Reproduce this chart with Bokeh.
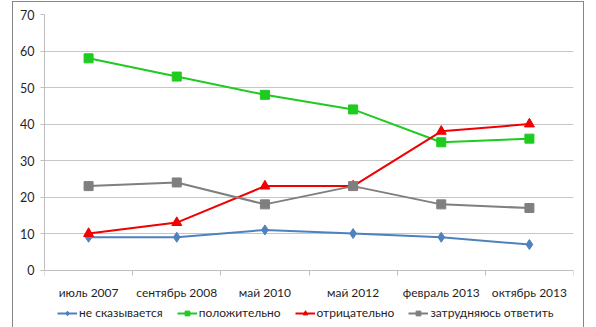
from bokeh.plotting import figure
from bokeh.models import FixedTicker, Legend, LegendItem, Range1d
from bokeh.embed import file_html
from bokeh.resources import INLINE

categories = ["июль 2007", "сентябрь 2008", "май 2010", "май 2012", "февраль 2013", "октябрь 2013"]
ne_skazyvaetsya = [9, 9, 11, 10, 9, 7]
polozhitelno = [58, 53, 48, 44, 35, 36]
otricatelno = [10, 13, 23, 23, 38, 40]
zatrudnyayus = [23, 24, 18, 23, 18, 17]
series_names = ["не сказывается", "положительно", "отрицательно", "затрудняюсь ответить"]
y_ticks = [0, 10, 20, 30, 40, 50, 60, 70]

FONT = "Lato"
FS = "12px"
x = [i + 0.5 for i in range(len(categories))]

p = figure(width=572, height=326, output_backend="svg", toolbar_location=None,
           x_range=Range1d(0, len(categories)), y_range=Range1d(-16, 70),
           min_border_left=31, min_border_right=12, min_border_top=12, min_border_bottom=0)
p.margin = (1, 0, 0, 12)
p.styles = {"border": "1px solid #868686", "border-bottom": "none", "box-sizing": "border-box"}
p.outline_line_color = None
p.background_fill_color = "white"
p.border_fill_color = "white"

p.xaxis.fixed_location = 0
p.xaxis.ticker = FixedTicker(ticks=x, minor_ticks=list(range(len(categories) + 1)))
p.xaxis.major_label_overrides = {v: c for v, c in zip(x, categories)}
p.xaxis.major_tick_out = 0
p.xaxis.major_tick_in = 0
p.xaxis.minor_tick_out = 5
p.xaxis.minor_tick_in = 0
p.xaxis.minor_tick_line_color = "#bfbfbf"
p.xaxis.axis_line_color = "#bfbfbf"
p.xaxis.major_label_text_font = FONT
p.xaxis.major_label_text_font_size = FS
p.xaxis.major_label_text_color = "#1f1f1f"
p.xaxis.major_label_standoff = 10

p.yaxis.ticker = FixedTicker(ticks=y_ticks)
p.yaxis.bounds = (0, 70)
p.yaxis.major_tick_out = 4
p.yaxis.major_tick_in = 0
p.yaxis.minor_tick_line_color = None
p.yaxis.major_tick_line_color = "#bfbfbf"
p.yaxis.axis_line_color = "#bfbfbf"
p.yaxis.major_label_text_font = FONT
p.yaxis.major_label_text_font_size = "12.5px"
p.yaxis.major_label_text_color = "#1f1f1f"
p.yaxis.major_label_standoff = 6

p.xgrid.grid_line_color = None
p.ygrid.ticker = FixedTicker(ticks=y_ticks[1:])
p.ygrid.grid_line_color = "#c6c6c6"
p.ygrid.grid_line_width = 1

colors = ["#4F81BD", "#1ECB1E", "#F00000", "#7F7F7F"]
data = [ne_skazyvaetsya, polozhitelno, otricatelno, zatrudnyayus]
items = []
for name, ys, c, m in zip(series_names, data, colors, ["diamond", "square", "triangle", "square"]):
    r1 = p.line(x, ys, line_color=c, line_width=2)
    size = {"diamond": 10, "square": 9, "triangle": 10}[m]
    r2 = p.scatter(x, ys, marker=m, size=size, fill_color=c, line_color=c)
    items.append(LegendItem(label=name, renderers=[r1, r2]))

legend = Legend(items=items, orientation="horizontal", location=(13, 8),
                label_text_font=FONT, label_text_font_size=FS, label_text_color="#1f1f1f",
                glyph_width=20, glyph_height=12, spacing=14, padding=0, margin=0,
                label_standoff=2, border_line_color=None, background_fill_alpha=0)
p.add_layout(legend)

open("out.html", "w").write(file_html(p, INLINE))
